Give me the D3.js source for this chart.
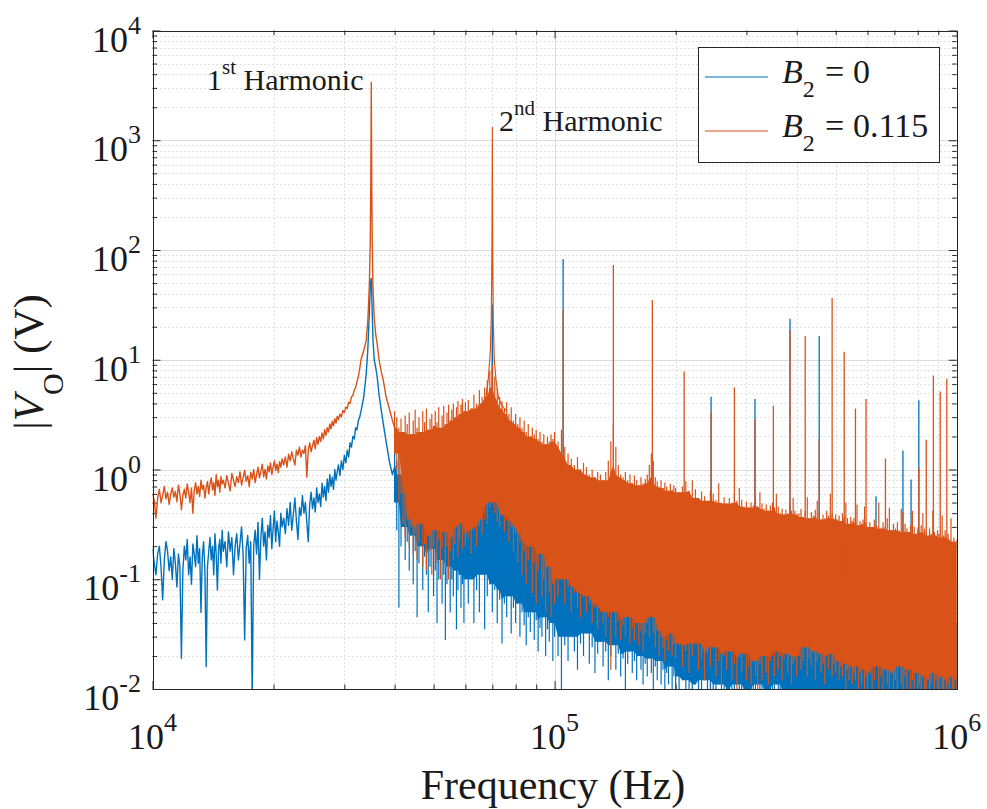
<!DOCTYPE html>
<html>
<head>
<meta charset="utf-8">
<script src="https://cdn.jsdelivr.net/npm/d3@7/dist/d3.min.js"></script>
<style>
  body { margin: 0; background: #fff; }
  svg { display: block; }
  text { font-family: "Liberation Serif", "Times New Roman", serif; fill: #1a1a1a; }
</style>
</head>
<body>
<svg id="chart" width="987" height="809"></svg>
<script>
// ---------- axis decades (tick labels are 10^e) ----------
const xTickExps = [4, 5, 6];
const yTickExps = [-2, -1, 0, 1, 2, 3, 4];

// ---------- low-frequency trace, 10 kHz .. 32.75 kHz ----------
const lowFreq = [
  10.0,10.1,10.2,10.3,10.4,10.5,10.6,10.7,10.8,10.9,11.0,11.1,11.2,11.3,11.4,11.5,11.6,11.7,11.8,11.9,
  12.0,12.1,12.2,12.3,12.4,12.5,12.6,12.7,12.8,12.9,13.0,13.1,13.2,13.3,13.4,13.5,13.6,13.7,13.8,13.9,
  14.0,14.1,14.2,14.3,14.4,14.5,14.6,14.7,14.8,14.9,15.0,
  15.15,15.3,15.45,15.6,15.75,15.9,16.05,16.2,16.35,16.5,16.65,16.8,16.95,17.1,17.25,17.4,17.55,17.7,17.85,18.0,
  18.15,18.3,18.45,18.6,18.75,18.9,19.05,19.2,19.35,19.5,19.65,19.8,19.95,20.1,20.25,20.4,20.55,20.7,20.85,21.0,
  21.2,21.4,21.6,21.8,22.0,22.2,22.4,22.6,22.8,23.0,23.2,23.4,23.6,23.8,24.0,24.2,24.4,24.6,24.8,25.0,
  25.2,25.4,25.6,25.8,26.0,26.2,26.4,26.6,26.8,27.0,27.2,27.4,27.6,27.8,28.0,28.2,28.4,28.6,28.8,29.0,
  29.25,29.5,29.75,30.0,30.25,30.5,30.75,31.0,31.25,31.5,31.75,32.0,32.25,32.5,32.75];
const blueLow = [
  0.19,0.14,0.11,0.17,0.2,0.13,0.065,0.15,0.22,0.18,0.12,0.16,0.1,0.19,0.14,0.085,0.17,0.13,0.019,0.12,
  0.2,0.15,0.23,0.11,0.16,0.09,0.21,0.17,0.13,0.25,0.14,0.19,0.05,0.16,0.22,0.12,0.016,0.13,0.18,0.24,
  0.15,0.2,0.11,0.26,0.17,0.08,0.19,0.23,0.14,0.28,0.18,
  0.22,0.13,0.27,0.18,0.24,0.11,0.2,0.26,0.15,0.21,0.3,0.17,0.028,0.19,0.25,0.14,0.22,0.008,0.2,0.28,
  0.17,0.33,0.1,0.24,0.36,0.2,0.27,0.15,0.31,0.24,0.38,0.19,0.29,0.42,0.22,0.34,0.27,0.2,0.4,0.3,
  0.36,0.26,0.44,0.31,0.5,0.28,0.39,0.55,0.34,0.23,0.45,0.38,0.58,0.4,0.5,0.33,0.22,0.48,0.62,0.44,
  0.55,0.41,0.68,0.5,0.6,0.46,0.75,0.56,0.7,0.52,0.82,0.62,0.9,0.7,0.85,0.66,1.0,0.8,0.95,1.1,
  0.88,1.2,1.0,1.35,1.15,1.5,1.3,1.75,1.6,2.0,1.9,2.4,2.3,2.8,3.0];
const orangeLow = [
  0.6,0.52,0.36,0.55,0.66,0.5,0.58,0.7,0.54,0.62,0.48,0.6,0.68,0.56,0.63,0.51,0.72,0.6,0.43,0.58,
  0.66,0.55,0.74,0.62,0.5,0.68,0.4,0.64,0.76,0.6,0.7,0.57,0.8,0.66,0.72,0.55,0.68,0.78,0.6,0.74,
  0.84,0.65,0.76,0.58,0.9,0.7,0.8,0.62,0.86,0.74,0.8,
  0.68,0.88,0.75,0.64,0.92,0.8,0.7,0.86,0.76,0.95,0.72,0.84,0.98,0.78,0.88,0.7,0.94,0.82,1.0,0.76,
  0.9,1.05,0.84,0.96,1.12,0.86,1.0,0.82,1.08,0.95,1.15,0.9,1.05,1.2,0.98,1.12,0.94,1.18,1.05,1.25,
  1.1,1.3,1.05,1.38,1.2,1.45,1.25,1.1,1.5,1.35,1.6,1.3,1.5,1.4,1.65,0.85,1.5,1.75,1.45,1.65,
  1.85,1.55,1.95,1.7,2.0,1.8,2.15,1.9,2.3,2.05,2.4,2.2,2.6,2.35,2.75,2.5,2.9,2.65,3.05,2.85,
  3.2,3.0,3.45,3.3,3.7,3.6,4.1,4.0,4.6,4.7,5.3,5.6,6.3,7.0,8.2];

// ---------- fundamental resonance, around 35 kHz ----------
const peak1Freq = [33.0,33.5,34.0,34.3,34.5,34.65,34.8,34.9,34.96,35.0,35.04,35.1,35.2,35.35,35.6,35.9,36.2,36.6,37.0,37.5,38.1,38.8,39.5];
const orangePeak1 = [10,12,15,22,35,55,120,400,1300,3365,1300,350,110,45,24,17,14,10,8.0,6.5,4.6,3.6,2.8];
const bluePeak1 = [3.4,4.5,7.4,12,20,30,45,52,54,55,50,40,26,15,10,8.5,7.0,4.8,3.6,2.6,1.8,1.2,0.9];

// ---------- second harmonic, around 70 kHz ----------
const peak2Freq = [66.0,67.5,68.5,69.2,69.6,69.85,70.0,70.15,70.4,70.8,71.5,72.5,74.0,76.0];
const orangePeak2 = [3.6,4.5,7.0,12,25,110,1312,100,22,10,6.5,4.5,3.8,3.4];
const bluePeak2 = [1.5,1.2,1.8,2.0,2.5,5,31.6,4,2.2,1.6,1.3,1.5,1.0,1.2];

// ---------- dense noise floor, 40 kHz .. 1 MHz: upper and lower tips per bin ----------
const bandFreq = [40,40.5,41,41.5,42,42.5,43,43.5,44,44.5,45,45.5,46,46.5,47,47.5,48,48.5,49,49.5,50,50.5,51,51.5,52,52.5,53,53.5,54,54.5,55,55.5,56,56.5,57,57.5,58,58.5,59,59.5,60,
  61,62,63,64,65,66,67,68,69,70,71,72,73,74,75,76,77,78,79,80,81,82,83,84,85,86,87,88,89,90,91,92,93,94,95,96,97,98,99,100,
  102,104,106,108,110,112,114,116,118,120,122,124,126,128,130,132,134,136,138,140,142,144,146,148,150,152,154,156,158,160,162,164,166,168,170,172,174,176,178,180,182,184,186,188,190,192,194,196,198,200,
  204,208,212,216,220,224,228,232,236,240,244,248,252,256,260,264,268,272,276,280,284,288,292,296,300,304,308,312,316,320,324,328,332,336,340,344,348,352,356,360,364,368,372,376,380,384,388,392,396,400,
  405,410,415,420,425,430,435,440,445,450,455,460,465,470,475,480,485,490,495,500,505,510,515,520,525,530,535,540,545,550,555,560,565,570,575,580,585,590,595,600,
  608,616,624,632,640,648,656,664,672,680,688,696,704,712,720,728,736,744,752,760,768,776,784,792,800,808,816,824,832,840,848,856,864,872,880,888,896,904,912,920,928,936,944,952,960,968,976,984,992,1000];

const orangeTop = [3.4,3.0,2.4,2.9,2.2,3.1,2.6,3.3,2.1,2.8,3.5,2.4,3.0,2.2,3.4,2.7,3.6,2.3,2.9,3.2,2.5,3.4,2.7,3.7,2.4,3.1,3.8,2.6,3.3,3.9,2.8,3.5,4.0,3.0,3.7,4.2,3.2,3.9,4.4,3.4,4.1,
  4.3,3.6,4.8,4.0,5.3,4.6,5.6,6.5,8.0,9.0,7.0,5.5,4.6,4.2,3.6,4.1,3.2,3.7,2.8,3.2,2.6,3.0,2.4,2.8,2.2,2.6,2.0,2.4,2.1,2.3,1.9,2.2,1.8,2.1,1.7,2.0,1.8,2.1,1.9,2.2,
  1.8,2.3,1.6,1.4,1.25,1.1,1.3,1.0,1.15,1.05,0.9,1.0,0.85,0.95,0.9,0.8,0.95,1.2,1.8,2.6,1.6,1.1,0.9,0.85,0.95,0.8,0.9,0.75,0.88,0.8,0.72,0.85,0.75,0.82,0.9,1.1,1.4,1.2,0.85,0.78,0.7,0.8,0.68,0.76,0.7,0.64,0.74,0.66,0.72,0.68,
  0.62,0.7,0.78,0.64,0.8,0.66,0.55,0.63,0.57,0.52,0.64,0.6,0.53,0.75,0.5,0.56,0.49,0.55,0.5,0.6,0.52,0.68,0.53,0.46,0.51,0.45,0.5,0.47,0.55,0.46,0.62,0.49,0.44,0.48,0.42,0.47,0.5,0.45,0.6,0.46,0.4,0.44,0.39,0.43,0.4,0.47,0.42,0.55,0.42,0.39,
  0.4,0.44,0.37,0.42,0.56,0.36,0.41,0.38,0.43,0.52,0.4,0.35,0.39,0.36,0.42,0.38,0.6,0.4,0.36,0.39,0.35,0.38,0.34,0.4,0.37,0.5,0.36,0.32,0.37,0.34,0.36,0.33,0.48,0.31,0.34,0.32,0.35,0.46,0.33,0.3,
  0.33,0.3,0.35,0.31,0.5,0.29,0.33,0.3,0.36,0.45,0.28,0.32,0.29,0.33,0.28,0.44,0.27,0.32,0.29,0.27,0.31,0.42,0.3,0.26,0.29,0.27,0.31,0.4,0.29,0.27,0.25,0.29,0.26,0.42,0.27,0.25,0.28,0.26,0.24,0.38,0.25,0.28,0.24,0.26,0.23,0.36,0.22,0.24,0.22,0.23];
const orangeBottom = [1.4,1.0,0.5,0.6,0.32,0.24,0.35,0.2,0.3,0.17,0.26,0.15,0.22,0.32,0.13,0.21,0.12,0.25,0.18,0.11,0.2,0.28,0.14,0.23,0.1,0.19,0.27,0.13,0.2,0.1,0.18,0.24,0.15,0.21,0.3,0.16,0.23,0.32,0.19,0.26,0.2,
  0.24,0.17,0.28,0.2,0.3,0.26,0.35,0.32,0.45,0.5,0.4,0.33,0.3,0.38,0.27,0.34,0.22,0.3,0.18,0.26,0.14,0.22,0.11,0.18,0.09,0.15,0.2,0.075,0.14,0.06,0.12,0.17,0.07,0.1,0.05,0.13,0.075,0.045,0.09,0.06,
  0.07,0.1,0.06,0.085,0.05,0.075,0.055,0.045,0.07,0.05,0.06,0.04,0.055,0.035,0.05,0.04,0.03,0.045,0.015,0.05,0.03,0.042,0.028,0.038,0.03,0.045,0.026,0.036,0.028,0.04,0.025,0.034,0.022,0.032,0.04,0.03,0.045,0.032,0.024,0.034,0.02,0.03,0.024,0.018,0.028,0.022,0.032,0.02,0.026,0.019,
  0.025,0.016,0.022,0.014,0.02,0.026,0.015,0.019,0.012,0.021,0.016,0.024,0.013,0.018,0.011,0.02,0.015,0.022,0.012,0.017,0.01,0.019,0.014,0.021,0.012,0.016,0.011,0.018,0.013,0.009,0.017,0.012,0.02,0.014,0.011,0.018,0.02,0.013,0.022,0.015,0.02,0.012,0.019,0.021,0.014,0.02,0.011,0.017,0.019,0.013,
  0.02,0.015,0.018,0.024,0.013,0.019,0.016,0.022,0.012,0.018,0.021,0.014,0.017,0.011,0.02,0.015,0.021,0.013,0.017,0.014,0.018,0.012,0.016,0.013,0.017,0.01,0.015,0.012,0.016,0.011,0.014,0.012,0.016,0.01,0.014,0.011,0.015,0.01,0.013,0.01,
  0.014,0.009,0.012,0.016,0.01,0.013,0.008,0.015,0.011,0.009,0.014,0.01,0.012,0.008,0.016,0.011,0.009,0.013,0.01,0.015,0.008,0.012,0.01,0.014,0.009,0.011,0.008,0.013,0.01,0.009,0.012,0.008,0.011,0.014,0.009,0.012,0.01,0.008,0.013,0.01,0.009,0.012,0.008,0.011,0.009,0.013,0.01,0.008,0.012,0.01];
const blueTop = [1.6,1.2,1.5,0.9,1.3,1.0,1.4,0.85,1.2,1.05,1.3,0.8,1.1,1.35,0.9,1.15,1.25,0.8,1.1,1.4,0.95,1.2,1.5,1.0,1.3,1.6,1.1,1.4,1.7,1.2,1.5,1.1,1.6,1.3,1.8,1.2,1.5,2.0,4.0,1.4,1.7,
  1.3,1.7,1.2,1.5,1.9,1.3,1.6,2.0,2.2,2.4,2.0,1.7,1.4,1.8,1.2,1.5,1.1,1.4,1.0,1.3,0.95,1.2,0.9,1.1,0.85,1.05,0.8,1.0,0.75,0.95,0.7,0.9,0.72,0.85,0.65,0.8,0.62,0.75,0.6,0.7,
  0.6,1.0,0.7,0.5,0.45,0.55,0.4,0.5,0.38,0.45,0.35,0.42,0.3,0.4,0.32,0.28,0.35,0.4,0.5,0.55,0.45,0.35,0.3,0.25,0.3,0.22,0.28,0.2,0.25,0.22,0.18,0.24,0.19,0.22,0.26,0.3,0.35,0.28,0.2,0.18,0.16,0.2,0.15,0.18,0.16,0.14,0.17,0.13,0.16,0.14,
  0.14,0.17,0.13,0.16,0.12,0.15,0.13,0.16,0.12,0.14,0.18,0.13,0.12,0.15,0.11,0.14,0.12,0.13,0.11,0.14,0.12,0.1,0.13,0.11,0.12,0.1,0.12,0.11,0.13,0.1,0.09,0.11,0.1,0.12,0.09,0.11,0.1,0.12,0.09,0.1,0.11,0.09,0.1,0.12,0.09,0.11,0.1,0.08,0.1,0.09,
  0.09,0.07,0.1,0.08,0.085,0.07,0.09,0.075,0.1,0.08,0.07,0.09,0.075,0.085,0.07,0.09,0.08,0.065,0.08,0.07,0.085,0.07,0.075,0.06,0.08,0.065,0.07,0.06,0.075,0.065,0.07,0.06,0.068,0.058,0.07,0.06,0.065,0.055,0.062,0.057,
  0.055,0.05,0.06,0.048,0.052,0.058,0.047,0.053,0.05,0.056,0.045,0.05,0.054,0.046,0.05,0.043,0.052,0.048,0.045,0.05,0.042,0.047,0.051,0.044,0.048,0.041,0.046,0.05,0.043,0.045,0.04,0.046,0.042,0.048,0.04,0.044,0.041,0.046,0.039,0.043,0.04,0.045,0.038,0.042,0.04,0.037,0.041,0.039,0.036,0.04];
const blueBottom = [0.5,0.28,0.055,0.2,0.3,0.15,0.22,0.12,0.25,0.09,0.18,0.045,0.14,0.2,0.08,0.16,0.11,0.05,0.13,0.19,0.07,0.12,0.04,0.1,0.15,0.06,0.11,0.028,0.09,0.13,0.05,0.1,0.07,0.12,0.035,0.08,0.11,0.055,0.09,0.04,0.1,
  0.06,0.1,0.04,0.08,0.05,0.11,0.035,0.07,0.09,0.05,0.08,0.04,0.065,0.026,0.06,0.045,0.07,0.032,0.055,0.04,0.06,0.03,0.05,0.038,0.025,0.045,0.033,0.05,0.028,0.042,0.022,0.036,0.03,0.045,0.02,0.035,0.027,0.04,0.018,0.03,
  0.02,0.009,0.025,0.018,0.03,0.022,0.015,0.026,0.02,0.032,0.017,0.024,0.014,0.021,0.027,0.016,0.022,0.012,0.02,0.025,0.015,0.021,0.013,0.019,0.009,0.017,0.022,0.014,0.018,0.012,0.02,0.015,0.011,0.017,0.013,0.019,0.014,0.009,0.016,0.012,0.018,0.011,0.015,0.009,0.014,0.011,0.016,0.01,0.013,0.009,
  0.008,0.012,0.006,0.01,0.007,0.011,0.005,0.009,0.012,0.006,0.01,0.008,0.005,0.011,0.007,0.009,0.006,0.01,0.005,0.008,0.011,0.006,0.009,0.005,0.01,0.007,0.005,0.009,0.006,0.011,0.007,0.005,0.009,0.006,0.01,0.005,0.008,0.006,0.011,0.005,0.009,0.007,0.005,0.01,0.006,0.008,0.005,0.009,0.006,0.007,
  0.006,0.009,0.005,0.008,0.004,0.01,0.006,0.005,0.009,0.007,0.004,0.008,0.006,0.01,0.005,0.007,0.004,0.009,0.006,0.005,0.008,0.004,0.007,0.01,0.005,0.006,0.009,0.004,0.007,0.005,0.008,0.006,0.004,0.009,0.005,0.007,0.004,0.008,0.006,0.005,
  0.005,0.008,0.004,0.007,0.009,0.005,0.006,0.004,0.008,0.005,0.007,0.004,0.006,0.009,0.005,0.004,0.007,0.005,0.008,0.004,0.006,0.005,0.009,0.004,0.007,0.005,0.006,0.004,0.008,0.005,0.004,0.007,0.006,0.004,0.008,0.005,0.006,0.004,0.007,0.005,0.009,0.004,0.006,0.005,0.007,0.004,0.008,0.005,0.006,0.004];

// ---------- higher-harmonic lines (kHz, peak V; null = no visible line) ----------
const harmonicFreq = [105,140,175,210,245,280,315,350,385,420,455,490,525,560,595,630,665,735,770,805,840,875,910,945];
const blueHarm   = [83,null,null,null,4.6,null,4.4,null,23.6,null,16.5,null,null,null,null,0.57,null,1.49,0.81,4.27,null,null,null,null];
const orangeHarm = [28.5,73,35,7.8,3.3,5.6,2.9,3.8,18.7,16.5,1.9,36.6,11.8,3.6,4.4,null,1.26,0.41,null,1.04,1.87,7.2,5.15,6.7];

const seriesNames = ["0", "0.115"];
const seriesColors = ["#0072BD", "#D95319"];

// ---------- layout ----------
const svg = d3.select("#chart");
const P = { l: 152.5, r: 956.7, t: 30.5, b: 689 };
const x = d3.scaleLog().domain([1e4, 1e6]).range([P.l, P.r]);
const y = d3.scaleLog().domain([1e-2, 1e4]).range([P.b, P.t]);
const fx = k => x(k * 1000);
const crisp = v => Math.round(v) + 0.5;
const AXIS = "#262626";

const xMajor = xTickExps.map(e => Math.pow(10, e));
const yMajor = yTickExps.map(e => Math.pow(10, e));
const xMinor = [], yMinor = [];
xTickExps.slice(0, -1).forEach(e => { for (let m = 2; m <= 9; m++) xMinor.push(m * Math.pow(10, e)); });
yTickExps.slice(0, -1).forEach(e => { for (let m = 2; m <= 9; m++) yMinor.push(m * Math.pow(10, e)); });

// ---------- grid ----------
const gGrid = svg.append("g");
gGrid.selectAll(null).data(xMinor).join("line")
  .attr("x1", d => crisp(x(d))).attr("x2", d => crisp(x(d))).attr("y1", P.t).attr("y2", P.b)
  .attr("stroke", "#c2c2c2").attr("stroke-width", 1).attr("stroke-dasharray", "1 3");
gGrid.selectAll(null).data(yMinor).join("line")
  .attr("y1", d => crisp(y(d))).attr("y2", d => crisp(y(d))).attr("x1", P.l).attr("x2", P.r)
  .attr("stroke", "#c2c2c2").attr("stroke-width", 1).attr("stroke-dasharray", "1 3");
gGrid.selectAll(null).data(xMajor.slice(1, -1)).join("line")
  .attr("x1", d => crisp(x(d))).attr("x2", d => crisp(x(d))).attr("y1", P.t).attr("y2", P.b)
  .attr("stroke", "#dcdcdc").attr("stroke-width", 1);
gGrid.selectAll(null).data(yMajor.slice(1, -1)).join("line")
  .attr("y1", d => crisp(y(d))).attr("y2", d => crisp(y(d))).attr("x1", P.l).attr("x2", P.r)
  .attr("stroke", "#dcdcdc").attr("stroke-width", 1);

// ---------- tick marks on all four sides ----------
function tickSet(axisFn, scale, values, size, transform) {
  const g = svg.append("g").attr("transform", transform)
    .call(axisFn(scale).tickValues(values).tickSize(size).tickFormat(""));
  g.select(".domain").remove();
  g.selectAll("line").attr("stroke", AXIS);
}
tickSet(d3.axisBottom, x, xMajor, -8, `translate(0,${P.b})`);
tickSet(d3.axisBottom, x, xMinor, -4.5, `translate(0,${P.b})`);
tickSet(d3.axisTop, x, xMajor, -8, `translate(0,${P.t})`);
tickSet(d3.axisTop, x, xMinor, -4.5, `translate(0,${P.t})`);
tickSet(d3.axisLeft, y, yMajor, -8, `translate(${P.l},0)`);
tickSet(d3.axisLeft, y, yMinor, -4.5, `translate(${P.l},0)`);
tickSet(d3.axisRight, y, yMajor, -8, `translate(${P.r},0)`);
tickSet(d3.axisRight, y, yMinor, -4.5, `translate(${P.r},0)`);

// ---------- data ----------
svg.append("clipPath").attr("id", "plotClip").append("rect")
  .attr("x", P.l).attr("y", P.t).attr("width", P.r - P.l).attr("height", P.b - P.t);
const gData = svg.append("g").attr("clip-path", "url(#plotClip)");
const line = d3.line().x(d => fx(d[0])).y(d => y(d[1]));
const spikeBase = 0.1;

// solid core of the noise floor: inner envelope over a few neighbouring bins
function bandCore(topV, botV) {
  const n = bandFreq.length, w = 2;
  return bandFreq.map((f, i) => {
    const a = Math.max(0, i - w), b = Math.min(n - 1, i + w);
    const lo = d3.max(botV.slice(a, b + 1));
    const hi = d3.min(topV.slice(a, b + 1));
    return { f, lo, hi: Math.max(hi, lo) };
  });
}
const coreArea = d3.area().x(d => fx(d.f)).y0(d => y(d.lo)).y1(d => y(d.hi));

function drawSeries(color, lowV, peakV, topV, botV, peak2V, harmV) {
  // continuous trace below and through the fundamental
  const pts = lowFreq.map((f, i) => [f, lowV[i]])
    .concat(peak1Freq.map((f, i) => [f, peakV[i]]))
    .concat([[bandFreq[0], (topV[0] + botV[0]) / 2]]);
  gData.append("path").datum(pts)
    .attr("d", line).attr("fill", "none").attr("stroke", color)
    .attr("stroke-width", 1.4).attr("stroke-linejoin", "round");
  // dense floor: solid core plus one stroke per bin from lower to upper tip
  gData.append("path").datum(bandCore(topV, botV))
    .attr("d", coreArea).attr("fill", color).attr("stroke", "none");
  const strokes = bandFreq.map((f, i) =>
    `M${fx(f).toFixed(2)},${y(botV[i]).toFixed(2)}V${y(topV[i]).toFixed(2)}`).join("");
  gData.append("path").attr("d", strokes)
    .attr("fill", "none").attr("stroke", color).attr("stroke-width", 1.2);
  // second harmonic
  gData.append("path").datum(peak2Freq.map((f, i) => [f, peak2V[i]]))
    .attr("d", line).attr("fill", "none").attr("stroke", color)
    .attr("stroke-width", 1.2).attr("stroke-linejoin", "round");
  // higher harmonics
  gData.selectAll(null)
    .data(harmonicFreq.map((f, i) => [f, harmV[i]]).filter(d => d[1] != null))
    .join("line")
    .attr("x1", d => fx(d[0])).attr("x2", d => fx(d[0]))
    .attr("y1", d => y(d[1])).attr("y2", y(spikeBase))
    .attr("stroke", color).attr("stroke-width", 1.3);
}
drawSeries(seriesColors[0], blueLow, bluePeak1, blueTop, blueBottom, bluePeak2, blueHarm);
drawSeries(seriesColors[1], orangeLow, orangePeak1, orangeTop, orangeBottom, orangePeak2, orangeHarm);

// ---------- axes box ----------
svg.append("rect").attr("x", crisp(P.l)).attr("y", crisp(P.t))
  .attr("width", Math.round(P.r) - Math.round(P.l)).attr("height", Math.round(P.b) - Math.round(P.t))
  .attr("fill", "none").attr("stroke", AXIS).attr("stroke-width", 1);

// ---------- text helper: parts may be superscript, subscript or italic ----------
function richText(x0, y0, parts, o) {
  const t = svg.append("text")
    .attr("transform", `translate(${x0},${y0})${o.rotate ? " rotate(" + o.rotate + ")" : ""}`)
    .attr("text-anchor", o.anchor || "start")
    .style("font-size", o.size + "px");
  let shift = 0;
  parts.forEach(p => {
    const target = p.sup ? -o.rise : (p.sub ? o.drop : 0);
    const ts = t.append("tspan").attr("dy", target - shift).text(p.t);
    shift = target;
    if (p.sup || p.sub) ts.style("font-size", o.small + "px");
    if (p.it) ts.style("font-style", "italic");
  });
  return t;
}

// tick labels
yTickExps.forEach(e => {
  richText(141, y(Math.pow(10, e)) + 21, [{ t: "10" }, { t: String(e), sup: true }],
    { anchor: "end", size: 36, small: 26, rise: 18 });
});
xTickExps.forEach(e => {
  richText(x(Math.pow(10, e)), 749, [{ t: "10" }, { t: String(e), sup: true }],
    { anchor: "middle", size: 36, small: 26, rise: 18 });
});

// axis titles
richText(553, 799, [{ t: "Frequency (Hz)" }], { anchor: "middle", size: 42 });
richText(43, 362, [{ t: "|" }, { t: "V", it: true }, { t: "O", sub: true }, { t: "| (V)" }],
  { anchor: "middle", size: 43, small: 30, drop: 20, rotate: -90 });

// peak annotations
richText(207, 90, [{ t: "1" }, { t: "st", sup: true }, { t: " Harmonic" }],
  { size: 30, small: 21, rise: 16 });
richText(499, 131, [{ t: "2" }, { t: "nd", sup: true }, { t: " Harmonic" }],
  { size: 30, small: 21, rise: 16 });

// ---------- legend ----------
const lg = { x: 698, y: 47, w: 241, h: 115 };
svg.append("rect").attr("x", lg.x + 0.5).attr("y", lg.y + 0.5).attr("width", lg.w).attr("height", lg.h)
  .attr("fill", "#fff").attr("stroke", AXIS).attr("stroke-width", 1);
const rowBase = [83, 137];
seriesNames.forEach((name, i) => {
  svg.append("line").attr("x1", 705).attr("x2", 768)
    .attr("y1", rowBase[i] - 6).attr("y2", rowBase[i] - 6)
    .attr("stroke", seriesColors[i]).attr("stroke-width", 1.2);
  richText(782, rowBase[i], [{ t: "B", it: true }, { t: "2", sub: true }],
    { size: 34, small: 24, drop: 14 });
  richText(825, rowBase[i], [{ t: "=" }], { size: 34 });
  richText(853, rowBase[i], [{ t: name }], { size: 34 });
});
</script>
</body>
</html>
